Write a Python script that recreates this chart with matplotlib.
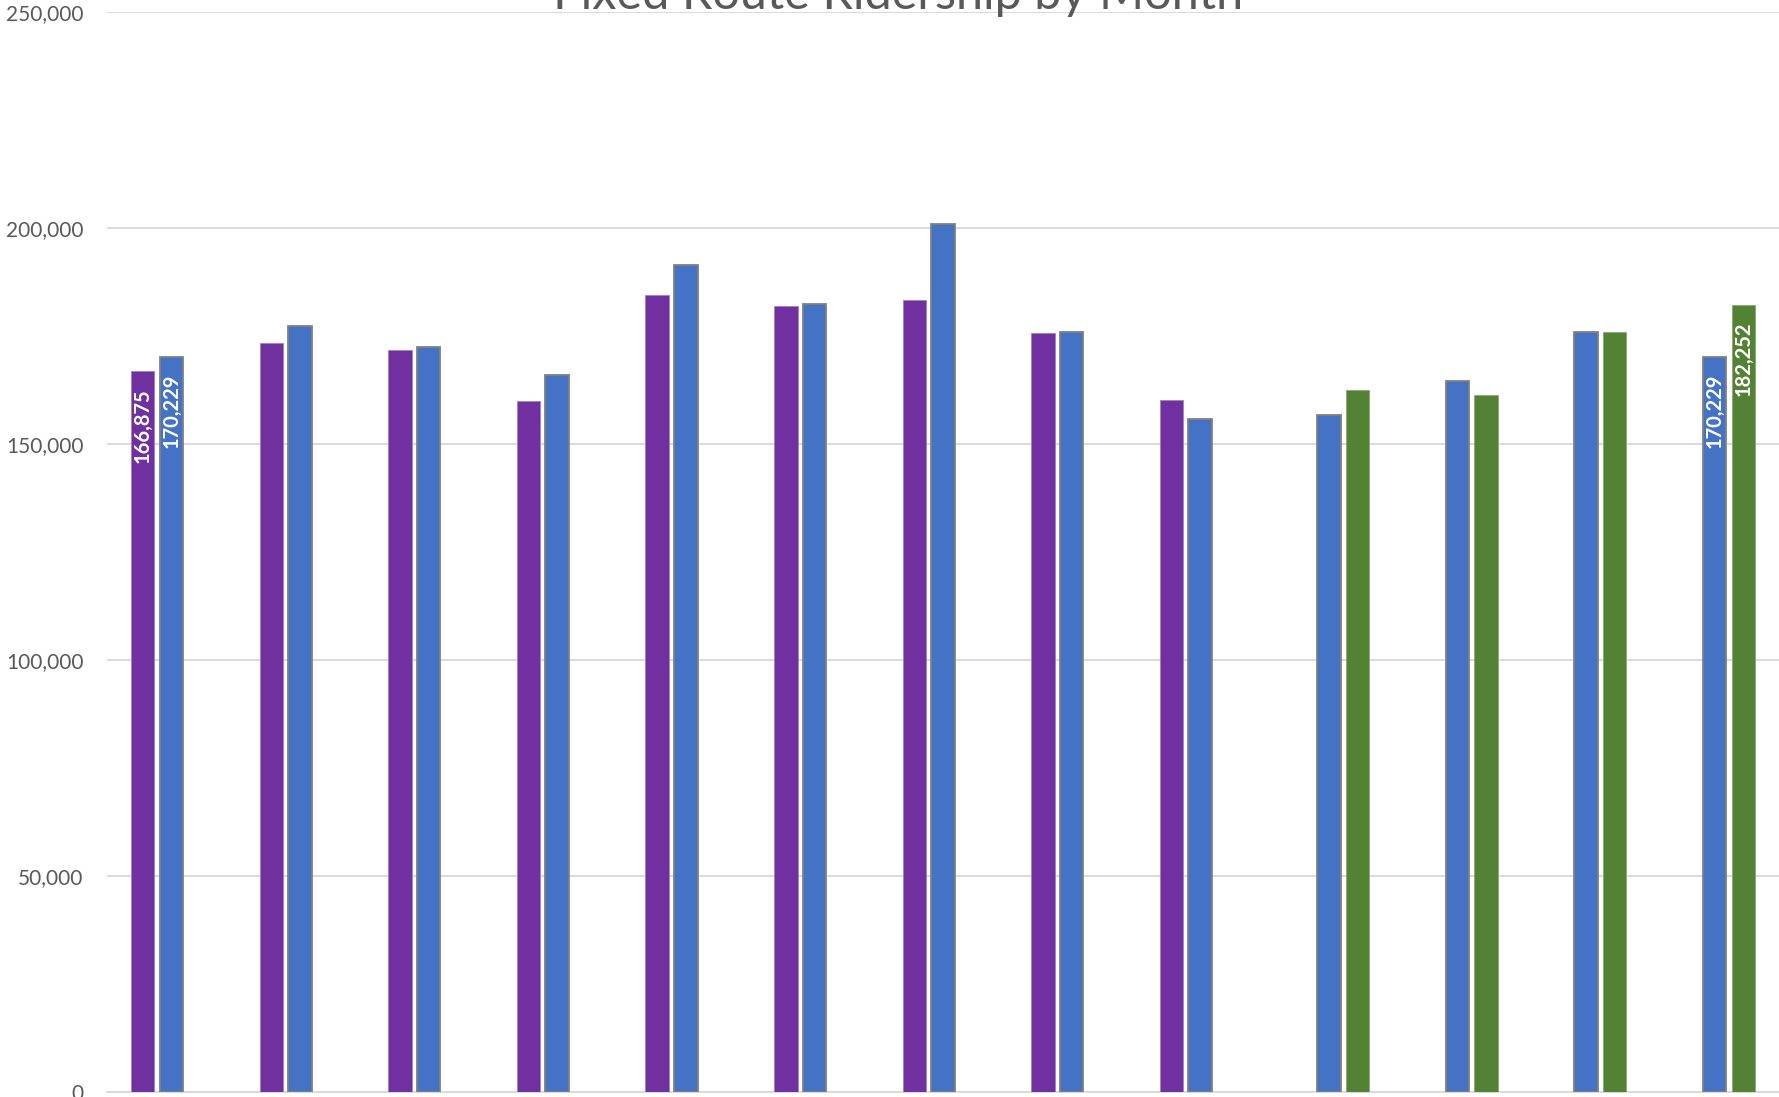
import numpy as np
import matplotlib.pyplot as plt
from matplotlib.ticker import FuncFormatter

# monthly fixed route ridership, three years (None = no data for that month)
n_months = 13
year_a = [166875, 173290, 171730, 159930, 184470, 181850, 183240, 175600, 160160,
          None, None, None, None]
year_b = [170229, 177290, 172500, 165870, 191490, 182310, 200840, 175830, 155690,
          156680, 164630, 175970, 170229]
year_c = [None, None, None, None, None, None, None, None, None,
          162400, 161240, 175830, 182252]

# bars that carry a value label: (series index, month index)
labelled = [(0, 0), (1, 0), (1, 12), (2, 12)]

yticks = [0, 50000, 100000, 150000, 200000, 250000]
title = 'Fixed Route Ridership by Month'

colors = ['#7030A0', '#4472C4', '#548235']
edges = ['#a27fc0', '#808080', '#8aa874']
edge_w = [0.6, 1.3, 0.6]

plt.rcParams['font.family'] = ['Lato', 'DejaVu Sans']

fig = plt.figure(figsize=(17.79, 10.97), dpi=100)
ax = fig.add_axes([107 / 1779, 5.3 / 1097, 1 - 107 / 1779, (1091.7 - 12) / 1097])

x = np.arange(n_months)
pitch = 0.2224
width = 0.183
series = [year_a, year_b, year_c]
for k, vals in enumerate(series):
    v = np.array([np.nan if a is None else a for a in vals], dtype=float)
    ax.bar(x + (k - 1) * pitch, v, width, color=colors[k],
           edgecolor=edges[k], linewidth=edge_w[k], zorder=3)

for k, i in labelled:
    val = series[k][i]
    ax.annotate(f'{val:,}', xy=(i + (k - 1) * pitch, val), xytext=(0, -12.5),
                textcoords='offset points', rotation=90, ha='center', va='top',
                color='white', fontsize=14.5, fontweight='bold', zorder=4)

ax.set_xlim(-0.5, n_months - 0.5)
ax.set_ylim(0, 250000)
ax.set_yticks(yticks)
ax.yaxis.set_major_formatter(FuncFormatter(lambda v, p: f'{int(v):,}'))
ax.set_xticks([])
ax.tick_params(axis='y', length=0, pad=17, labelsize=15, labelcolor='#595959')
ax.grid(axis='y', color='#D9D9D9', linewidth=1.4, zorder=0)
for s in ['top', 'left', 'right']:
    ax.spines[s].set_visible(False)
ax.spines['bottom'].set_color('#D9D9D9')
ax.spines['bottom'].set_linewidth(1.4)

fig.text(897.6 / 1779, (1097 - 9) / 1097, title, ha='center', va='baseline',
         fontsize=35, color='#595959')

fig.savefig('out.png', dpi=100)
